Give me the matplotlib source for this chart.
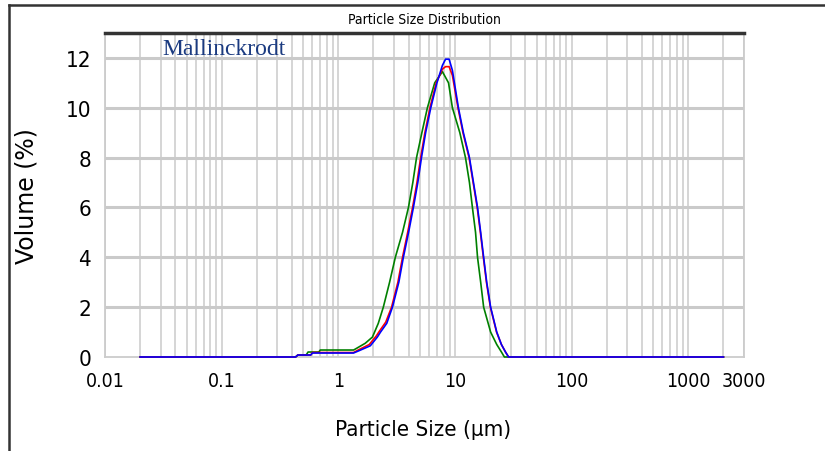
import matplotlib
matplotlib.use("Agg")
import matplotlib.pyplot as plt
from matplotlib.lines import Line2D

# ---- data (particle size in µm, volume %) ----
blue_size = [0.02, 0.43, 0.45, 0.58, 0.60, 1.35, 1.5, 1.88, 2.16, 2.3, 2.6, 2.91, 3.3,
             3.61, 4.0, 4.4, 4.8, 5.16, 5.6, 6.2, 7.0, 7.8, 8.3, 8.9, 9.5, 10.7, 11.8,
             13.3, 14.4, 15.6, 16.6, 17.6, 18.7, 20.2, 22.8, 25.0, 27.1, 28.8, 2000]
blue_vol = [0, 0, 0.08, 0.08, 0.16, 0.16, 0.25, 0.45, 0.8, 1.0, 1.35, 2.0, 3.0,
            4.0, 5.0, 6.0, 7.0, 8.0, 9.0, 10.0, 11.0, 11.7, 11.95, 11.95, 11.5, 10.0, 9.0,
            8.0, 7.0, 6.0, 5.0, 4.0, 3.0, 2.0, 1.0, 0.5, 0.2, 0, 0]

red_size = [0.02, 0.43, 0.45, 0.58, 0.60, 1.35, 1.48, 1.84, 2.12, 2.26, 2.55, 2.86, 3.24,
            3.55, 3.93, 4.33, 4.72, 5.08, 5.52, 6.1, 6.9, 7.8, 8.3, 8.9, 9.5, 10.6, 11.7,
            13.2, 14.3, 15.5, 16.5, 17.5, 18.6, 20.1, 22.7, 25.0, 27.1, 28.8, 2000]
red_vol = [0, 0, 0.08, 0.08, 0.18, 0.18, 0.28, 0.5, 0.85, 1.05, 1.4, 2.0, 3.0,
           4.0, 5.0, 6.0, 7.0, 8.0, 9.0, 10.0, 11.0, 11.55, 11.65, 11.65, 11.3, 10.0, 9.0,
           8.0, 7.0, 6.0, 5.0, 4.0, 3.0, 2.0, 1.0, 0.5, 0.2, 0, 0]

green_size = [0.02, 0.43, 0.45, 0.53, 0.55, 0.68, 0.70, 1.35, 1.4, 1.7, 1.96, 2.2, 2.43,
              2.75, 3.08, 3.55, 3.99, 4.35, 4.68, 5.2, 5.8, 6.7, 7.8, 8.8, 9.5, 11.0,
              12.3, 13.3, 14.1, 15.0, 15.6, 16.6, 17.6, 20.2, 22.8, 25.0, 26.5, 2000]
green_vol = [0, 0, 0.08, 0.08, 0.2, 0.2, 0.28, 0.28, 0.32, 0.55, 0.8, 1.35, 2.0,
             3.0, 4.0, 5.0, 6.0, 7.0, 8.0, 9.0, 10.0, 11.0, 11.45, 11.0, 10.0, 9.0,
             8.0, 7.0, 6.0, 5.0, 4.0, 3.0, 2.0, 1.0, 0.5, 0.2, 0, 0]

x_ticks = [0.01, 0.1, 1, 10, 100, 1000, 3000]
x_tick_labels = ["0.01", "0.1", "1", "10", "100", "1000", "3000"]
y_ticks = [0, 2, 4, 6, 8, 10, 12]

cond = dict(family=["DejaVu Sans"], fontstretch="condensed")

fig = plt.figure(figsize=(8.25, 4.52), dpi=100)
ax = fig.add_axes([105 / 825, 1 - 358 / 452, (744 - 105) / 825, (358 - 34) / 452])

# vertical grid at every log minor position
grid_x = []
for dec in [0.01, 0.1, 1, 10, 100, 1000]:
    for m in range(1, 10):
        v = dec * m
        if v <= 3000:
            grid_x.append(v)
for v in grid_x:
    ax.axvline(v, color="#d2d2d2", lw=1.3, zorder=1)
for v in y_ticks[1:]:
    ax.axhline(v, color="#cacaca", lw=2.2, zorder=1)

ax.plot(green_size, green_vol, color="#008000", lw=1.2, zorder=3, clip_on=False)
ax.plot(red_size, red_vol, color="#ff0000", lw=1.2, zorder=4, clip_on=False)
ax.plot(blue_size, blue_vol, color="#0000ff", lw=1.2, zorder=5, clip_on=False)

ax.set_xscale("log")
ax.set_xlim(0.01, 3000)
ax.set_ylim(0, 13)
ax.set_xticks(x_ticks)
ax.set_xticklabels(x_tick_labels, fontsize=14, **cond)
ax.xaxis.set_minor_locator(matplotlib.ticker.NullLocator())
ax.set_yticks(y_ticks)
ax.set_yticklabels([str(v) for v in y_ticks], fontsize=16, **cond)
ax.tick_params(axis="both", length=0)
ax.tick_params(axis="y", pad=10)
ax.tick_params(axis="x", pad=10)

for side in ["left", "right", "bottom"]:
    ax.spines[side].set_color("#cccccc")
    ax.spines[side].set_linewidth(1.3)
ax.spines["top"].set_color("#333333")
ax.spines["top"].set_linewidth(2.5)

ax.set_title("Particle Size Distribution", fontsize=10, pad=7, **cond)
ax.set_xlabel("Particle Size (µm)", fontsize=16, **cond)
ax.xaxis.set_label_coords(0.497, -0.19)
ax.set_ylabel("Volume (%)", family=["DejaVu Sans"], fontsize=17)
ax.yaxis.set_label_coords(-0.104, 0.5)

ax.text(0.089, 0.985, "Mallinckrodt", transform=ax.transAxes, ha="left", va="top",
        family=["Liberation Serif", "DejaVu Serif"], fontsize=17, color="#1a3a80")

# outer frame lines
fig.add_artist(Line2D([8.5 / 825, 1.0], [1 - 6 / 452, 1 - 6 / 452], color="#333333", lw=1.8))
fig.add_artist(Line2D([8.5 / 825, 8.5 / 825], [0, 1 - 6 / 452], color="#333333", lw=1.8))

fig.savefig("out.png", dpi=100)
